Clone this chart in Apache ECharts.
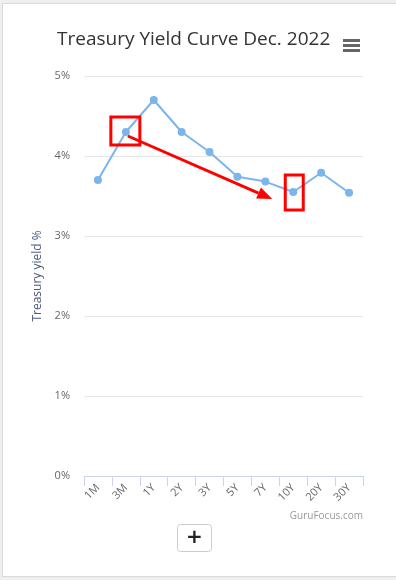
<!DOCTYPE html>
<html><head><meta charset="utf-8">
<script src="https://cdn.jsdelivr.net/npm/echarts@6/dist/echarts.min.js"></script>
<style>
html,body{margin:0;padding:0;width:396px;height:580px;background:#efefef;overflow:hidden;}
#card{position:absolute;left:2px;top:3px;width:400px;height:574px;background:#fff;border:1px solid #dadada;box-sizing:border-box;}
#chart{position:absolute;left:0;top:0;width:396px;height:580px;}
</style></head><body><div id="card"></div><div id="chart"></div>
<script>
const categories = ['1M', '3M', '1Y', '2Y', '3Y', '5Y', '7Y', '10Y', '20Y', '30Y'];
const yields = [3.70, 4.30, 4.70, 4.30, 4.05, 3.74, 3.68, 3.55, 3.79, 3.54];
const yTickValues = [0, 1, 2, 3, 4, 5];
const titleText = 'Treasury Yield Curve Dec. 2022';
const yAxisTitle = 'Treasury yield %';
const creditText = 'GuruFocus.com';
const highlightStart = '3M';
const highlightEnd = '10Y';

const FONT = "'Open Sans', 'DejaVu Sans', sans-serif";
const chart = echarts.init(document.getElementById('chart'), null, {renderer: 'canvas'});
chart.setOption({
  animation: false,
  backgroundColor: 'transparent',
  textStyle: {fontFamily: FONT},
  title: {
    text: titleText, left: 57, top: 30, padding: 0,
    textStyle: {fontFamily: FONT, fontSize: 19, fontWeight: 'normal', color: '#333333'}
  },
  grid: {left: 84, right: 33, top: 76, bottom: 104},
  xAxis: {
    type: 'category', data: categories, boundaryGap: true,
    axisLine: {show: true, lineStyle: {color: '#ccd6eb', width: 1}},
    axisTick: {show: true, length: 10, alignWithLabel: false, lineStyle: {color: '#ccd6eb'}},
    axisLabel: {rotate: 45, interval: 0, color: '#666666', fontSize: 11, margin: 10, fontFamily: FONT},
    splitLine: {show: false}
  },
  yAxis: {
    type: 'value', min: yTickValues[0], max: yTickValues[yTickValues.length - 1], interval: 1,
    axisLine: {show: false}, axisTick: {show: false},
    axisLabel: {formatter: '{value}%', color: '#666666', fontSize: 11, margin: 14, fontFamily: FONT},
    splitLine: {lineStyle: {color: '#e6e6e6', width: 1}},
    name: yAxisTitle, nameLocation: 'middle', nameRotate: 90, nameGap: 38,
    nameTextStyle: {color: '#4d5a7e', fontSize: 12, fontFamily: FONT}
  },
  series: [{
    type: 'line', data: yields,
    symbol: 'circle', symbolSize: 8, showSymbol: true,
    lineStyle: {color: '#7cb5ec', width: 2},
    itemStyle: {color: '#7cb5ec', borderWidth: 0},
    emphasis: {disabled: true}
  }]
});

const iA = categories.indexOf(highlightStart);
const iB = categories.indexOf(highlightEnd);
const pA = chart.convertToPixel({gridIndex: 0}, [iA, yields[iA]]);
const pB = chart.convertToPixel({gridIndex: 0}, [iB, yields[iB]]);
const RED = '#ff0000';
const s = [pA[0] + 2, pA[1] + 4];
const e = [pB[0] - 21, pB[1] + 7];
const dx = e[0] - s[0], dy = e[1] - s[1];
const len = Math.sqrt(dx * dx + dy * dy);
const ux = dx / len, uy = dy / len;
const hl = 15, hw = 6;
const base = [e[0] - ux * hl, e[1] - uy * hl];
const head = [e, [base[0] - uy * hw, base[1] + ux * hw], [base[0] + uy * hw, base[1] - ux * hw]];

chart.setOption({
  graphic: [
    {type: 'rect', shape: {x: 343, y: 39, width: 17, height: 3}, style: {fill: '#666666'}},
    {type: 'rect', shape: {x: 343, y: 44, width: 17, height: 3}, style: {fill: '#666666'}},
    {type: 'rect', shape: {x: 343, y: 49, width: 17, height: 3}, style: {fill: '#666666'}},
    {type: 'text', x: 363, y: 516, style: {text: creditText, fill: '#999999', fontSize: 10, fontFamily: FONT, align: 'right', verticalAlign: 'middle'}},
    {type: 'rect', shape: {x: 177.5, y: 524.5, width: 34, height: 27, r: 3}, style: {fill: '#ffffff', stroke: '#cccccc', lineWidth: 1}},
    {type: 'text', x: 194.5, y: 538, style: {text: '+', fill: '#222222', fontSize: 20, fontWeight: 'bold', fontFamily: 'DejaVu Sans', align: 'center', verticalAlign: 'middle'}},
    {type: 'rect', shape: {x: pA[0] - 15, y: pA[1] - 15, width: 29, height: 28}, style: {fill: 'none', stroke: RED, lineWidth: 3}, z: 10},
    {type: 'rect', shape: {x: pB[0] - 8, y: pB[1] - 17, width: 18, height: 35}, style: {fill: 'none', stroke: RED, lineWidth: 3}, z: 10},
    {type: 'line', shape: {x1: s[0], y1: s[1], x2: base[0], y2: base[1]}, style: {stroke: RED, lineWidth: 3}, z: 10},
    {type: 'polygon', shape: {points: head}, style: {fill: RED}, z: 10}
  ]
});
</script></body></html>
